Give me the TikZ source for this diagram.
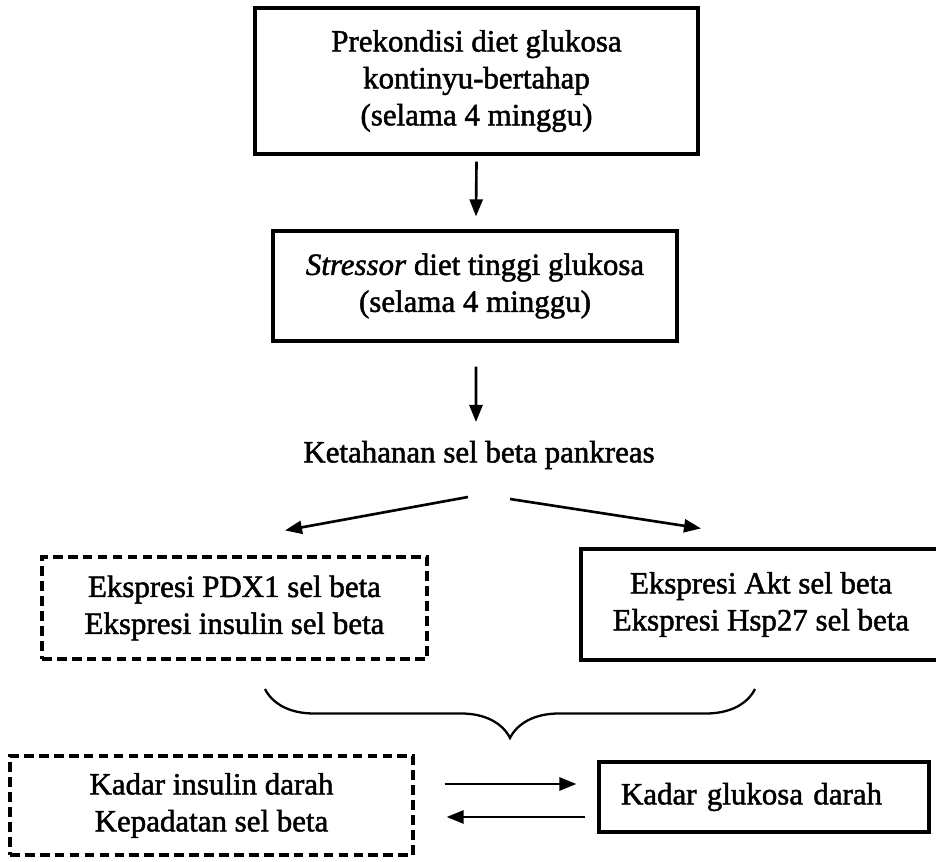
\documentclass[tikz,border=0pt]{standalone}
\usepackage{fontspec}
\setmainfont{Liberation Serif}[RawFeature={embolden=1.6}]
\usetikzlibrary{arrows.meta, decorations.pathreplacing, positioning}
\usetikzlibrary{calc}

\tikzset{
	kotak/.style={draw, line width=1.8pt, align=center, inner sep=0pt, font=\fontsize{17.6}{21}\selectfont},
	putus/.style={kotak, dash pattern=on 5.5pt off 3pt},
	teks/.style={inner sep=0pt, font=\fontsize{17.6}{21}\selectfont},
	panah/.style={-{Triangle[length=0.34cm,width=0.26cm]}, line width=1.5pt},
}

\begin{document}
\begin{tikzpicture}
				\useasboundingbox (0,0) rectangle (18.72,17.22);
				\node[kotak, minimum width=8.86cm, minimum height=2.92cm] (prekondisi) at (9.53,15.6) {Prekondisi diet glukosa\\kontinyu-bertahap\\(selama 4 minggu)};
				\node[kotak, minimum width=8.08cm, minimum height=2.2cm] (stressor) at (9.5,11.5) {\textit{Stressor} diet tinggi glukosa\\(selama 4 minggu)};
				\node[teks] (tahan) at (9.58,8.12) {Ketahanan sel beta pankreas};
				\node[putus, minimum width=7.7cm, minimum height=2.04cm] (pdx) at (4.69,5.06) {Ekspresi PDX1 sel beta\\Ekspresi insulin sel beta};
				\node[kotak, minimum width=7.2cm, minimum height=2.22cm] (akt) at (15.22,5.13) {Ekspresi Akt sel beta\\Ekspresi Hsp27 sel beta};
				\node[putus, minimum width=8.06cm, minimum height=1.98cm] (kadarins) at (4.23,1.11) {Kadar insulin darah\\Kepadatan sel beta};
				\node[kotak, align=left, text width=5.72cm, inner xsep=0.44cm, minimum height=1.4cm] (glukosa) at (15.28,1.28) {Kadar glukosa darah};
				\draw[panah] ($(prekondisi.south)+(0,-0.12)$) -- ($(stressor.north)+(0.02,0.26)$);
				\draw[panah] ($(stressor.south)+(0.02,-0.48)$) -- ($(tahan)+(-0.06,0.66)$);
				\draw[panah] ($(tahan)+(-0.22,-0.84)$) -- ($(pdx.north)+(1.01,0.5)$);
				\draw[panah] ($(tahan)+(0.62,-0.88)$) -- ($(akt.north)+(-1.2,0.38)$);
				\draw[decorate, decoration={brace, mirror, amplitude=0.98cm}, line width=1.3pt] (5.3,3.44) -- (15.1,3.44);
				\draw[panah] ($(kadarins.east)+(0.6,0.43)$) -- ($(glukosa.west)+(-0.42,0.26)$);
				\draw[panah] ($(glukosa.west)+(-0.24,-0.4)$) -- ($(kadarins.east)+(0.64,-0.23)$);
\end{tikzpicture}
\end{document}
